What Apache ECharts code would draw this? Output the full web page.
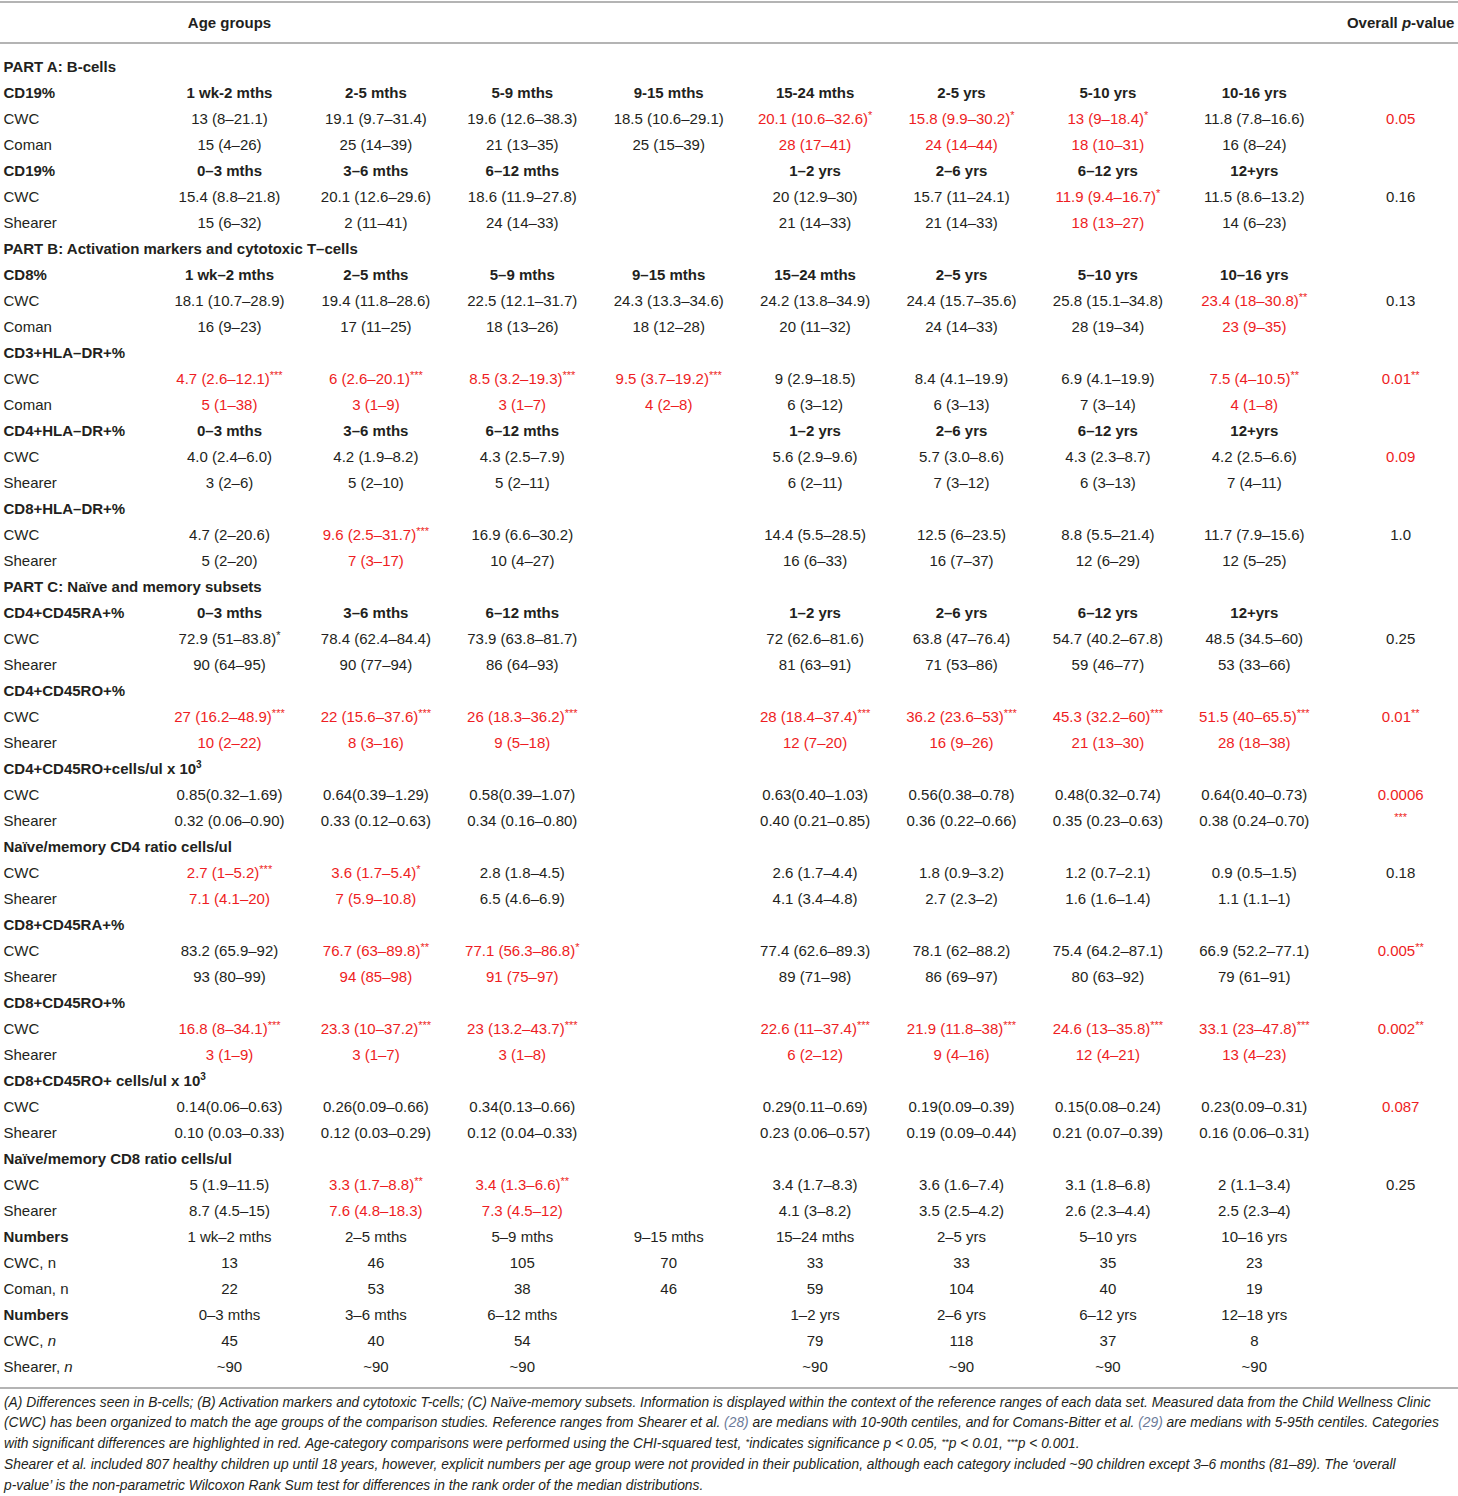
<!DOCTYPE html>
<html>
<head>
<meta charset="utf-8">
<script src="https://cdn.jsdelivr.net/npm/echarts@6/dist/echarts.min.js"></script>
<style>
  html, body { margin: 0; padding: 0; background: #fff; }
  #main { width: 1458px; height: 1496px; }
</style>
</head>
<body>
<div id="main"></div>
<script>
// ---- column headers ----
const colHeaders = ['', 'Age groups', '', '', '', '', '', '', '', 'Overall p-value'];

// ---- age group header rows ----
const agesComanA = ['1 wk-2 mths', '2-5 mths', '5-9 mths', '9-15 mths', '15-24 mths', '2-5 yrs', '5-10 yrs', '10-16 yrs'];
const agesComan = ['1 wk–2 mths', '2–5 mths', '5–9 mths', '9–15 mths', '15–24 mths', '2–5 yrs', '5–10 yrs', '10–16 yrs'];
const agesShearer = ['0–3 mths', '3–6 mths', '6–12 mths', '', '1–2 yrs', '2–6 yrs', '6–12 yrs', '12+yrs'];
const agesShearerN = ['0–3 mths', '3–6 mths', '6–12 mths', '', '1–2 yrs', '2–6 yrs', '6–12 yrs', '12–18 yrs'];

// ---- PART A ----
const cd19CwcA = ['13 (8–21.1)', '19.1 (9.7–31.4)', '19.6 (12.6–38.3)', '18.5 (10.6–29.1)', '20.1 (10.6–32.6)*', '15.8 (9.9–30.2)*', '13 (9–18.4)*', '11.8 (7.8–16.6)'];
const cd19Coman = ['15 (4–26)', '25 (14–39)', '21 (13–35)', '25 (15–39)', '28 (17–41)', '24 (14–44)', '18 (10–31)', '16 (8–24)'];
const cd19CwcB = ['15.4 (8.8–21.8)', '20.1 (12.6–29.6)', '18.6 (11.9–27.8)', '', '20 (12.9–30)', '15.7 (11–24.1)', '11.9 (9.4–16.7)*', '11.5 (8.6–13.2)'];
const cd19Shearer = ['15 (6–32)', '2 (11–41)', '24 (14–33)', '', '21 (14–33)', '21 (14–33)', '18 (13–27)', '14 (6–23)'];

// ---- PART B ----
const cd8Cwc = ['18.1 (10.7–28.9)', '19.4 (11.8–28.6)', '22.5 (12.1–31.7)', '24.3 (13.3–34.6)', '24.2 (13.8–34.9)', '24.4 (15.7–35.6)', '25.8 (15.1–34.8)', '23.4 (18–30.8)**'];
const cd8Coman = ['16 (9–23)', '17 (11–25)', '18 (13–26)', '18 (12–28)', '20 (11–32)', '24 (14–33)', '28 (19–34)', '23 (9–35)'];
const cd3DrCwc = ['4.7 (2.6–12.1)***', '6 (2.6–20.1)***', '8.5 (3.2–19.3)***', '9.5 (3.7–19.2)***', '9 (2.9–18.5)', '8.4 (4.1–19.9)', '6.9 (4.1–19.9)', '7.5 (4–10.5)**'];
const cd3DrComan = ['5 (1–38)', '3 (1–9)', '3 (1–7)', '4 (2–8)', '6 (3–12)', '6 (3–13)', '7 (3–14)', '4 (1–8)'];
const cd4DrCwc = ['4.0 (2.4–6.0)', '4.2 (1.9–8.2)', '4.3 (2.5–7.9)', '', '5.6 (2.9–9.6)', '5.7 (3.0–8.6)', '4.3 (2.3–8.7)', '4.2 (2.5–6.6)'];
const cd4DrShearer = ['3 (2–6)', '5 (2–10)', '5 (2–11)', '', '6 (2–11)', '7 (3–12)', '6 (3–13)', '7 (4–11)'];
const cd8DrCwc = ['4.7 (2–20.6)', '9.6 (2.5–31.7)***', '16.9 (6.6–30.2)', '', '14.4 (5.5–28.5)', '12.5 (6–23.5)', '8.8 (5.5–21.4)', '11.7 (7.9–15.6)'];
const cd8DrShearer = ['5 (2–20)', '7 (3–17)', '10 (4–27)', '', '16 (6–33)', '16 (7–37)', '12 (6–29)', '12 (5–25)'];

// ---- PART C ----
const cd4RaCwc = ['72.9 (51–83.8)*', '78.4 (62.4–84.4)', '73.9 (63.8–81.7)', '', '72 (62.6–81.6)', '63.8 (47–76.4)', '54.7 (40.2–67.8)', '48.5 (34.5–60)'];
const cd4RaShearer = ['90 (64–95)', '90 (77–94)', '86 (64–93)', '', '81 (63–91)', '71 (53–86)', '59 (46–77)', '53 (33–66)'];
const cd4RoCwc = ['27 (16.2–48.9)***', '22 (15.6–37.6)***', '26 (18.3–36.2)***', '', '28 (18.4–37.4)***', '36.2 (23.6–53)***', '45.3 (32.2–60)***', '51.5 (40–65.5)***'];
const cd4RoShearer = ['10 (2–22)', '8 (3–16)', '9 (5–18)', '', '12 (7–20)', '16 (9–26)', '21 (13–30)', '28 (18–38)'];
const cd4RoCellsCwc = ['0.85(0.32–1.69)', '0.64(0.39–1.29)', '0.58(0.39–1.07)', '', '0.63(0.40–1.03)', '0.56(0.38–0.78)', '0.48(0.32–0.74)', '0.64(0.40–0.73)'];
const cd4RoCellsShearer = ['0.32 (0.06–0.90)', '0.33 (0.12–0.63)', '0.34 (0.16–0.80)', '', '0.40 (0.21–0.85)', '0.36 (0.22–0.66)', '0.35 (0.23–0.63)', '0.38 (0.24–0.70)'];
const cd4RatioCwc = ['2.7 (1–5.2)***', '3.6 (1.7–5.4)*', '2.8 (1.8–4.5)', '', '2.6 (1.7–4.4)', '1.8 (0.9–3.2)', '1.2 (0.7–2.1)', '0.9 (0.5–1.5)'];
const cd4RatioShearer = ['7.1 (4.1–20)', '7 (5.9–10.8)', '6.5 (4.6–6.9)', '', '4.1 (3.4–4.8)', '2.7 (2.3–2)', '1.6 (1.6–1.4)', '1.1 (1.1–1)'];
const cd8RaCwc = ['83.2 (65.9–92)', '76.7 (63–89.8)**', '77.1 (56.3–86.8)*', '', '77.4 (62.6–89.3)', '78.1 (62–88.2)', '75.4 (64.2–87.1)', '66.9 (52.2–77.1)'];
const cd8RaShearer = ['93 (80–99)', '94 (85–98)', '91 (75–97)', '', '89 (71–98)', '86 (69–97)', '80 (63–92)', '79 (61–91)'];
const cd8RoCwc = ['16.8 (8–34.1)***', '23.3 (10–37.2)***', '23 (13.2–43.7)***', '', '22.6 (11–37.4)***', '21.9 (11.8–38)***', '24.6 (13–35.8)***', '33.1 (23–47.8)***'];
const cd8RoShearer = ['3 (1–9)', '3 (1–7)', '3 (1–8)', '', '6 (2–12)', '9 (4–16)', '12 (4–21)', '13 (4–23)'];
const cd8RoCellsCwc = ['0.14(0.06–0.63)', '0.26(0.09–0.66)', '0.34(0.13–0.66)', '', '0.29(0.11–0.69)', '0.19(0.09–0.39)', '0.15(0.08–0.24)', '0.23(0.09–0.31)'];
const cd8RoCellsShearer = ['0.10 (0.03–0.33)', '0.12 (0.03–0.29)', '0.12 (0.04–0.33)', '', '0.23 (0.06–0.57)', '0.19 (0.09–0.44)', '0.21 (0.07–0.39)', '0.16 (0.06–0.31)'];
const cd8RatioCwc = ['5 (1.9–11.5)', '3.3 (1.7–8.8)**', '3.4 (1.3–6.6)**', '', '3.4 (1.7–8.3)', '3.6 (1.6–7.4)', '3.1 (1.8–6.8)', '2 (1.1–3.4)'];
const cd8RatioShearer = ['8.7 (4.5–15)', '7.6 (4.8–18.3)', '7.3 (4.5–12)', '', '4.1 (3–8.2)', '3.5 (2.5–4.2)', '2.6 (2.3–4.4)', '2.5 (2.3–4)'];

// ---- numbers ----
const cwcNComan = ['13', '46', '105', '70', '33', '33', '35', '23'];
const comanN = ['22', '53', '38', '46', '59', '104', '40', '19'];
const cwcNShearer = ['45', '40', '54', '', '79', '118', '37', '8'];
const shearerN = ['~90', '~90', '~90', '', '~90', '~90', '~90', '~90'];

// ---- footnote ----
const notes = [
  '(A) Differences seen in B-cells; (B) Activation markers and cytotoxic T-cells; (C) Naïve-memory subsets. Information is displayed within the context of the reference ranges of each data set. Measured data from the Child Wellness Clinic',
  '(CWC) has been organized to match the age groups of the comparison studies. Reference ranges from Shearer et al. {ref|(28)} are medians with 10-90th centiles, and for Comans-Bitter et al. {ref|(29)} are medians with 5-95th centiles. Categories',
  'with significant differences are highlighted in red. Age-category comparisons were performed using the CHI-squared test, {st|*}indicates significance p < 0.05, {st|**}p < 0.01, {st|***}p < 0.001.',
  'Shearer et al. included 807 healthy children up until 18 years, however, explicit numbers per age group were not provided in their publication, although each category included ~90 children except 3–6 months (81–89). The ‘overall',
  'p-value’ is the non-parametric Wilcoxon Rank Sum test for differences in the rank order of the median distributions.'
];

// ---- assemble rows ----
const rows = [];
function section(label) { rows.push({ kind: 'section', label: label, cells: [] }); }
function head(label, ages, kind) { rows.push({ kind: kind || 'head', label: label, cells: ages }); }
function line(label, vals, p, red, redP, kind) {
  rows.push({ kind: kind || 'data', label: label, cells: vals, p: p, red: red || [], redP: !!redP });
}
const ALL = [1, 2, 3, 4, 5, 6, 7, 8];

section('PART A: B-cells');
head('CD19%', agesComanA);
line('CWC', cd19CwcA, '0.05', [5, 6, 7], true);
line('Coman', cd19Coman, '', [5, 6, 7]);
head('CD19%', agesShearer);
line('CWC', cd19CwcB, '0.16', [7]);
line('Shearer', cd19Shearer, '', [7]);
section('PART B: Activation markers and cytotoxic T–cells');
head('CD8%', agesComan);
line('CWC', cd8Cwc, '0.13', [8]);
line('Coman', cd8Coman, '', [8]);
head('CD3+HLA–DR+%', []);
line('CWC', cd3DrCwc, '0.01**', [1, 2, 3, 4, 8], true);
line('Coman', cd3DrComan, '', [1, 2, 3, 4, 8]);
head('CD4+HLA–DR+%', agesShearer);
line('CWC', cd4DrCwc, '0.09', [], true);
line('Shearer', cd4DrShearer, '');
head('CD8+HLA–DR+%', []);
line('CWC', cd8DrCwc, '1.0', [2]);
line('Shearer', cd8DrShearer, '', [2]);
section('PART C: Naïve and memory subsets');
head('CD4+CD45RA+%', agesShearer);
line('CWC', cd4RaCwc, '0.25');
line('Shearer', cd4RaShearer, '');
head('CD4+CD45RO+%', []);
line('CWC', cd4RoCwc, '0.01**', ALL, true);
line('Shearer', cd4RoShearer, '', ALL);
head('CD4+CD45RO+cells/ul x 10^3', []);
line('CWC', cd4RoCellsCwc, '0.0006', [], true);
line('Shearer', cd4RoCellsShearer, '***', [], true);
head('Naïve/memory CD4 ratio cells/ul', []);
line('CWC', cd4RatioCwc, '0.18', [1, 2]);
line('Shearer', cd4RatioShearer, '', [1, 2]);
head('CD8+CD45RA+%', []);
line('CWC', cd8RaCwc, '0.005**', [2, 3], true);
line('Shearer', cd8RaShearer, '', [2, 3]);
head('CD8+CD45RO+%', []);
line('CWC', cd8RoCwc, '0.002**', ALL, true);
line('Shearer', cd8RoShearer, '', ALL);
head('CD8+CD45RO+ cells/ul x 10^3', []);
line('CWC', cd8RoCellsCwc, '0.087', [], true);
line('Shearer', cd8RoCellsShearer, '');
head('Naïve/memory CD8 ratio cells/ul', []);
line('CWC', cd8RatioCwc, '0.25', [2, 3]);
line('Shearer', cd8RatioShearer, '', [2, 3]);
head('Numbers', agesComan, 'numhead');
line('CWC, n', cwcNComan, '');
line('Coman, n', comanN, '');
head('Numbers', agesShearerN, 'numhead');
line('CWC, n', cwcNShearer, '', [], false, 'ndata');
line('Shearer, n', shearerN, '', [], false, 'ndata');

// flatten into cells (row -1 is the column header line)
const cells = [];
colHeaders.forEach(function (h, ci) {
  if (h) cells.push({ col: ci, row: -1, text: h, kind: 'colhead' });
});
rows.forEach(function (r, ri) {
  cells.push({ col: 0, row: ri, text: r.label, kind: r.kind, isLabel: true });
  r.cells.forEach(function (t, ci) {
    if (t) cells.push({ col: ci + 1, row: ri, text: t, kind: r.kind, red: r.red && r.red.indexOf(ci + 1) >= 0 });
  });
  if (r.p) cells.push({ col: 9, row: ri, text: r.p, kind: r.kind, red: r.redP });
});

const TXT = '#231f20';
const RED = '#ee1d23';
const FAM = '"Liberation Sans", Arial, Helvetica, sans-serif';

function richFor(color) {
  return {
    s: { fill: color, fontFamily: FAM, fontSize: 11, fontWeight: 'normal', verticalAlign: 'top', lineHeight: 17 },
    sp: { fill: color, fontFamily: FAM, fontSize: 10, fontWeight: 'bold', verticalAlign: 'top', lineHeight: 17 },
    i: { fill: color, fontFamily: FAM, fontSize: 15, fontStyle: 'italic', lineHeight: 17 },
    bi: { fill: color, fontFamily: FAM, fontSize: 15, fontWeight: 'bold', fontStyle: 'italic', lineHeight: 17 }
  };
}

function markup(cell) {
  let t = cell.text;
  if (cell.kind === 'colhead') return t.replace(' p-', ' {bi|p}-');
  if (cell.isLabel) {
    t = t.replace('^3', '{sp|3}');
    if (cell.kind === 'ndata') t = t.replace(/, n$/, ', {i|n}');
    return t;
  }
  // trailing stars become superscript
  const m = t.match(/^(.*?)(\*+)$/);
  if (m) return (m[1] ? m[1] : '') + '{s|' + m[2] + '}';
  return t;
}

const chart = echarts.init(document.getElementById('main'), null, { renderer: 'svg' });

const option = {
  backgroundColor: '#ffffff',
  animation: false,
  grid: { left: 0, right: 0, top: 53, bottom: 117 },
  xAxis: {
    type: 'value',
    min: -0.5676,
    max: 9.3914,
    show: false
  },
  yAxis: {
    type: 'category',
    inverse: true,
    data: rows.map(function (r, i) { return String(i); }),
    show: false
  },
  series: [{
    type: 'custom',
    data: cells.map(function (c, i) { return [c.col, Math.max(c.row, 0), i]; }),
    encode: { x: 0, y: 1 },
    renderItem: function (params, api) {
      const cell = cells[api.value(2)];
      const pt = api.coord([api.value(0), api.value(1)]);
      const band = api.size([1, 0])[0];
      const color = cell.red ? RED : TXT;
      let x = pt[0];
      let y = pt[1];
      let align = 'center';
      if (cell.isLabel) {
        x = pt[0] - band / 2 - 6.4;
        align = 'left';
      }
      if (cell.kind === 'colhead') y = pt[1] - 44;
      const bold = cell.isLabel
        ? (cell.kind !== 'data' && cell.kind !== 'ndata')
        : (cell.kind === 'head' || cell.kind === 'colhead');
      return {
        type: 'text',
        style: {
          x: x,
          y: y,
          text: markup(cell),
          align: align,
          verticalAlign: 'middle',
          fill: color,
          fontFamily: FAM,
          fontSize: 15,
          fontWeight: bold ? 'bold' : 'normal',
          lineHeight: 17,
          rich: richFor(color)
        }
      };
    }
  }],
  graphic: {
    elements: [
      { type: 'rect', left: 0, top: 1, shape: { width: 1458, height: 2 }, style: { fill: '#b4b4b4' } },
      { type: 'rect', left: 0, top: 42, shape: { width: 1458, height: 2 }, style: { fill: '#b4b4b4' } },
      { type: 'rect', left: 0, top: 1387, shape: { width: 1458, height: 2 }, style: { fill: '#b4b4b4' } }
    ].concat(notes.map(function (n, i) {
      return {
        type: 'text',
        left: 4,
        top: 1395 + i * 20.8,
        style: {
          text: n,
          fill: TXT,
          fontFamily: FAM,
          fontSize: 13.8,
          fontStyle: 'italic',
          rich: {
            ref: { fill: '#6b7a99', fontFamily: FAM, fontSize: 13.8, fontStyle: 'italic' },
            st: { fill: TXT, fontFamily: FAM, fontSize: 9.5, fontStyle: 'italic', verticalAlign: 'top' }
          }
        }
      };
    }))
  }
};

chart.setOption(option);
</script>
</body>
</html>
